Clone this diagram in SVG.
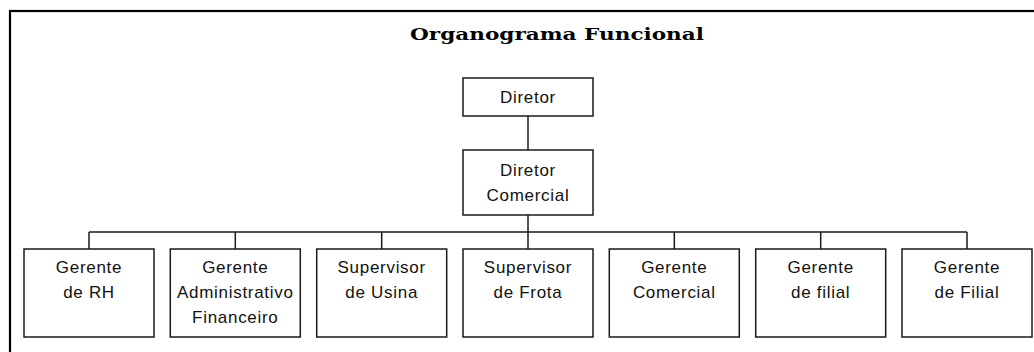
<svg xmlns="http://www.w3.org/2000/svg" width="1034" height="352" viewBox="0 0 1034 352">
<style>
.frame{fill:none;stroke:#000;stroke-width:2.2}
.box{fill:#fff;stroke:#1a1a1a;stroke-width:1.5}
.conn{fill:none;stroke:#1a1a1a;stroke-width:1.5}
.lbl{font-family:"Liberation Sans",Arial,sans-serif;font-size:17px;letter-spacing:0.7px;fill:#111;text-anchor:middle}
.title{font-family:"DejaVu Serif","Liberation Serif",serif;font-weight:bold;font-size:17px;fill:#000;text-anchor:middle}
</style>
<rect width="1034" height="352" fill="#fff"/>
<rect class="frame" x="10" y="11" width="1040" height="400"/>
<text class="title" x="557" y="40" textLength="294" lengthAdjust="spacingAndGlyphs">Organograma Funcional</text>
<g id="connectors">
<line class="conn" x1="528" y1="116" x2="528" y2="150"/>
<line class="conn" x1="528" y1="215" x2="528" y2="232"/>
<line class="conn" x1="89" y1="232" x2="967" y2="232"/>
<line class="conn" x1="89" y1="232" x2="89" y2="249"/>
<line class="conn" x1="235.3" y1="232" x2="235.3" y2="249"/>
<line class="conn" x1="381.7" y1="232" x2="381.7" y2="249"/>
<line class="conn" x1="528" y1="232" x2="528" y2="249"/>
<line class="conn" x1="674.3" y1="232" x2="674.3" y2="249"/>
<line class="conn" x1="820.7" y1="232" x2="820.7" y2="249"/>
<line class="conn" x1="967" y1="232" x2="967" y2="249"/>
</g>
<g id="diretor">
<rect class="box" x="463" y="78" width="130" height="38"/>
<text class="lbl" x="528" y="103">Diretor</text>
</g>
<g id="diretor-comercial">
<rect class="box" x="463" y="150" width="130" height="65"/>
<text class="lbl" x="528" y="176">Diretor</text>
<text class="lbl" x="528" y="201">Comercial</text>
</g>
<g id="gerente-rh">
<rect class="box" x="24" y="249" width="130" height="88"/>
<text class="lbl" x="89" y="273">Gerente</text>
<text class="lbl" x="89" y="298">de RH</text>
</g>
<g id="gerente-adm-fin">
<rect class="box" x="170.3" y="249" width="130" height="88"/>
<text class="lbl" x="235.3" y="273">Gerente</text>
<text class="lbl" x="235.3" y="298">Administrativo</text>
<text class="lbl" x="235.3" y="323">Financeiro</text>
</g>
<g id="supervisor-usina">
<rect class="box" x="316.7" y="249" width="130" height="88"/>
<text class="lbl" x="381.7" y="273">Supervisor</text>
<text class="lbl" x="381.7" y="298">de Usina</text>
</g>
<g id="supervisor-frota">
<rect class="box" x="463" y="249" width="130" height="88"/>
<text class="lbl" x="528" y="273">Supervisor</text>
<text class="lbl" x="528" y="298">de Frota</text>
</g>
<g id="gerente-comercial">
<rect class="box" x="609.3" y="249" width="130" height="88"/>
<text class="lbl" x="674.3" y="273">Gerente</text>
<text class="lbl" x="674.3" y="298">Comercial</text>
</g>
<g id="gerente-filial-1">
<rect class="box" x="755.7" y="249" width="130" height="88"/>
<text class="lbl" x="820.7" y="273">Gerente</text>
<text class="lbl" x="820.7" y="298">de filial</text>
</g>
<g id="gerente-filial-2">
<rect class="box" x="902" y="249" width="130" height="88"/>
<text class="lbl" x="967" y="273">Gerente</text>
<text class="lbl" x="967" y="298">de Filial</text>
</g>
</svg>
